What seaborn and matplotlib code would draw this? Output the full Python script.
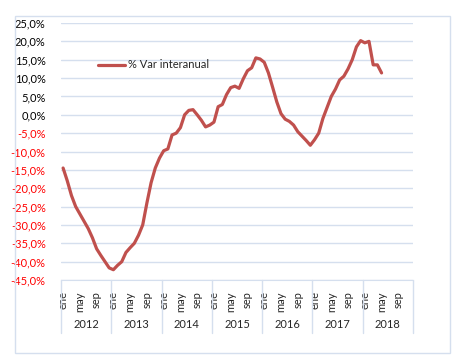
import numpy as np
import pandas as pd
import matplotlib
matplotlib.use("Agg")
import matplotlib.pyplot as plt
import matplotlib.transforms as mtransforms
from matplotlib.patches import Rectangle
import seaborn as sns

# --- data: % var interanual, monthly ene 2012 .. may 2018 ---
years = [2012, 2013, 2014, 2015, 2016, 2017, 2018]
month_labels = ["ene", "may", "sep"]
month_label_pos = [0, 4, 8]
var_interanual = [
    -14.5, -18.0, -22.0, -25.0, -27.0, -29.0, -31.0, -33.5, -36.5, -38.3, -40.0, -41.7,   # 2012
    -42.2, -41.0, -40.0, -37.5, -36.2, -35.0, -32.8, -30.0, -24.0, -18.5, -14.5, -11.8,   # 2013
    -9.8, -9.3, -5.5, -5.0, -3.5, 0.0, 1.2, 1.4, 0.0, -1.5, -3.3, -2.8,                   # 2014
    -2.0, 2.2, 2.8, 5.5, 7.4, 7.8, 7.2, 9.8, 12.0, 12.8, 15.5, 15.2,                      # 2015
    14.3, 11.4, 7.5, 3.5, 0.3, -1.2, -1.8, -2.8, -4.6, -5.8, -7.0, -8.3,                  # 2016
    -6.8, -5.0, -1.0, 2.0, 5.0, 7.0, 9.5, 10.5, 12.5, 15.0, 18.5, 20.2,                   # 2017
    19.6, 20.0, 13.6, 13.6, 11.4,                                                         # 2018
]
series_name = "% Var interanual"
yticks = list(range(-45, 30, 5))

df = pd.DataFrame({"idx": np.arange(len(var_interanual)), "valor": var_interanual})

sns.set_style("white")
plt.rcParams["font.family"] = ["Lato", "DejaVu Sans"]

grid_col = "#D5DFEE"
line_col = "#C0504D"

fig = plt.figure(figsize=(4.62, 3.63), dpi=100)
ax = fig.add_axes([61 / 462, 1 - 280 / 363, 352 / 462, 257 / 363])

sns.lineplot(data=df, x="idx", y="valor", ax=ax, color=line_col, linewidth=2.3,
             label=series_name, solid_joinstyle="round")

n_cat = 12 * len(years)
ax.set_xlim(-0.5, n_cat - 0.5)
ax.set_ylim(-45, 25)
ax.set_yticks(yticks)
ax.set_yticklabels([f"{v:.1f}%".replace(".", ",") for v in yticks], fontsize=8)
for lab, v in zip(ax.get_yticklabels(), yticks):
    lab.set_color("red" if v < 0 else "black")
ax.tick_params(axis="y", length=0, pad=11)

# x ticks: ene / may / sep per year
xt = [12 * k + p for k in range(len(years)) for p in month_label_pos]
ax.set_xticks(xt)
ax.set_xticklabels(month_labels * len(years), rotation=90, fontsize=8)
ax.tick_params(axis="x", length=0, pad=8)

ax.grid(axis="y", color=grid_col, linewidth=1)
ax.grid(axis="x", visible=False)
for s in ["top", "right", "left"]:
    ax.spines[s].set_visible(False)
ax.spines["bottom"].set_color(grid_col)
ax.set_xlabel("")
ax.set_ylabel("")

# year separators and labels
trans = mtransforms.blended_transform_factory(ax.transData, ax.transAxes)
for k in range(len(years) + 1):
    ax.plot([12 * k - 0.5] * 2, [0, -0.206], transform=trans, color=grid_col,
            linewidth=1, clip_on=False)
for k, yr in enumerate(years):
    ax.text(12 * k + 5.5, -0.175, str(yr), transform=trans, ha="center",
            va="center", fontsize=8)

leg = ax.legend(loc="center left", bbox_to_anchor=(0.105, 0.837), frameon=False,
                fontsize=8, handlelength=2.4, handletextpad=0.3, borderpad=0,
                borderaxespad=0)

fig.patches.append(Rectangle((15 / 462, 1 - 353 / 363), 435 / 462, 337 / 363,
                             transform=fig.transFigure, fill=False,
                             edgecolor=grid_col, linewidth=1))

fig.savefig("out.png", dpi=100)
